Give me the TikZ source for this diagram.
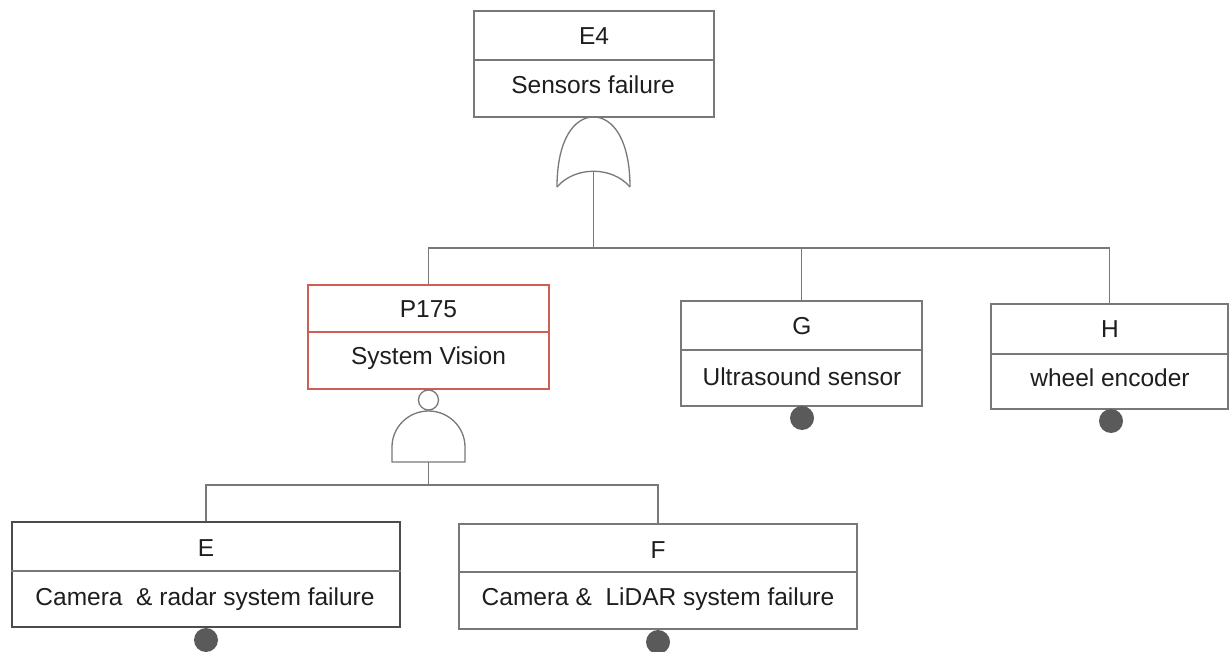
\documentclass[tikz,border=0pt]{standalone}
\usepackage{fontspec}
\setmainfont{Liberation Sans}
\definecolor{linegray}{RGB}{120,120,120}
\definecolor{boxred}{RGB}{205,95,85}
\definecolor{txt}{RGB}{30,30,30}
\definecolor{dotgray}{RGB}{90,90,90}
\begin{document}
\begin{tikzpicture}[x=1pt,y=-1pt,
  line/.style={draw=linegray,line width=1.3pt},
  fbox/.style={draw=linegray,line width=1.3pt,rectangle,inner sep=0pt},
  label/.style={text=txt,font=\fontsize{24.5}{28}\selectfont,inner sep=0pt,anchor=center},
  dot/.style={circle,fill=dotgray,minimum size=24pt,inner sep=0pt}]
\useasboundingbox (0,0) rectangle (1229,652);
\fill[white] (0,0) rectangle (1229,652);
% boxes
\node[fbox,minimum width=240pt,minimum height=106pt] (E4) at (594,64) {};
\node[fbox,draw=boxred,minimum width=241pt,minimum height=104pt] (P175) at (428.5,337) {};
\node[fbox,minimum width=241pt,minimum height=105pt] (G) at (801.5,353.5) {};
\node[fbox,minimum width=237pt,minimum height=105pt] (H) at (1109.5,356.5) {};
\node[fbox,line width=2.2pt,draw=black!70,minimum width=388pt,minimum height=105pt] (E) at (206,574.5) {};
\node[fbox,minimum width=398pt,minimum height=105pt] (F) at (658,576.5) {};
% dividers
\draw[line] (E4.west |- 0,60) -- (E4.east |- 0,60);
\draw[line,draw=boxred] (P175.west |- 0,332) -- (P175.east |- 0,332);
\draw[line] (G.west |- 0,350) -- (G.east |- 0,350);
\draw[line] (H.west |- 0,354) -- (H.east |- 0,354);
\draw[line] (E.west |- 0,571) -- (E.east |- 0,571);
\draw[line] (F.west |- 0,572) -- (F.east |- 0,572);
% texts
\node[label] (E4t) at (594,36) {E4};
\node[label] (E4d) at (593,85) {Sensors failure};
\node[label] (P175t) at (428.5,309) {P175};
\node[label] (P175d) at (428.5,358) {System Vision};
\node[label] (Gt) at (802,326) {G};
\node[label] (Gd) at (802,377) {Ultrasound sensor};
\node[label] (Ht) at (1110,329) {H};
\node[label] (Hd) at (1110,378) {wheel encoder};
\node[label] (Et) at (206,548) {E};
\node[label] (Ed) at (205,599) {Camera\ \ \& radar system failure};
\node[label] (Ft) at (658,550) {F};
\node[label] (Fd) at (658,599) {Camera \&\ \ LiDAR system failure};
% OR gate
\coordinate (orout) at (593.5,171);
\draw[line] (557,187) .. controls (557,140) and (574,117) .. (593.5,117)
  .. controls (613,117) and (630,140) .. (630,187);
\draw[line] (557,187) .. controls (575,166) and (612,166) .. (630,187);
\coordinate (bus) at (593.5,248);
\draw[line] (orout) -- (bus);
\draw[line] (P175.north) |- (bus) -| (H.north);
\draw[line] (G.north) -- (G.north |- bus);
% inhibit circle + AND gate
\node[circle,draw=linegray,line width=1.3pt,minimum size=20pt,inner sep=0pt] (neg) at (428.5,400) {};
\draw[line] (392,462) -- (392,447) arc[start angle=180,end angle=0,x radius=36.5pt,y radius=36pt] -- (465,462) -- cycle;
\coordinate (andout) at (428.5,462);
\coordinate (bus2) at (428.5,485);
\draw[line] (andout) -- (bus2);
\draw[line] (E.north) |- (bus2) -| (F.north);
% basic event dots
\node[dot] (Edot) at (206,640) {};
\node[dot] (Fdot) at (658,642) {};
\node[dot] (Gdot) at (802,418) {};
\node[dot] (Hdot) at (1111,421) {};
\end{tikzpicture}
\end{document}
